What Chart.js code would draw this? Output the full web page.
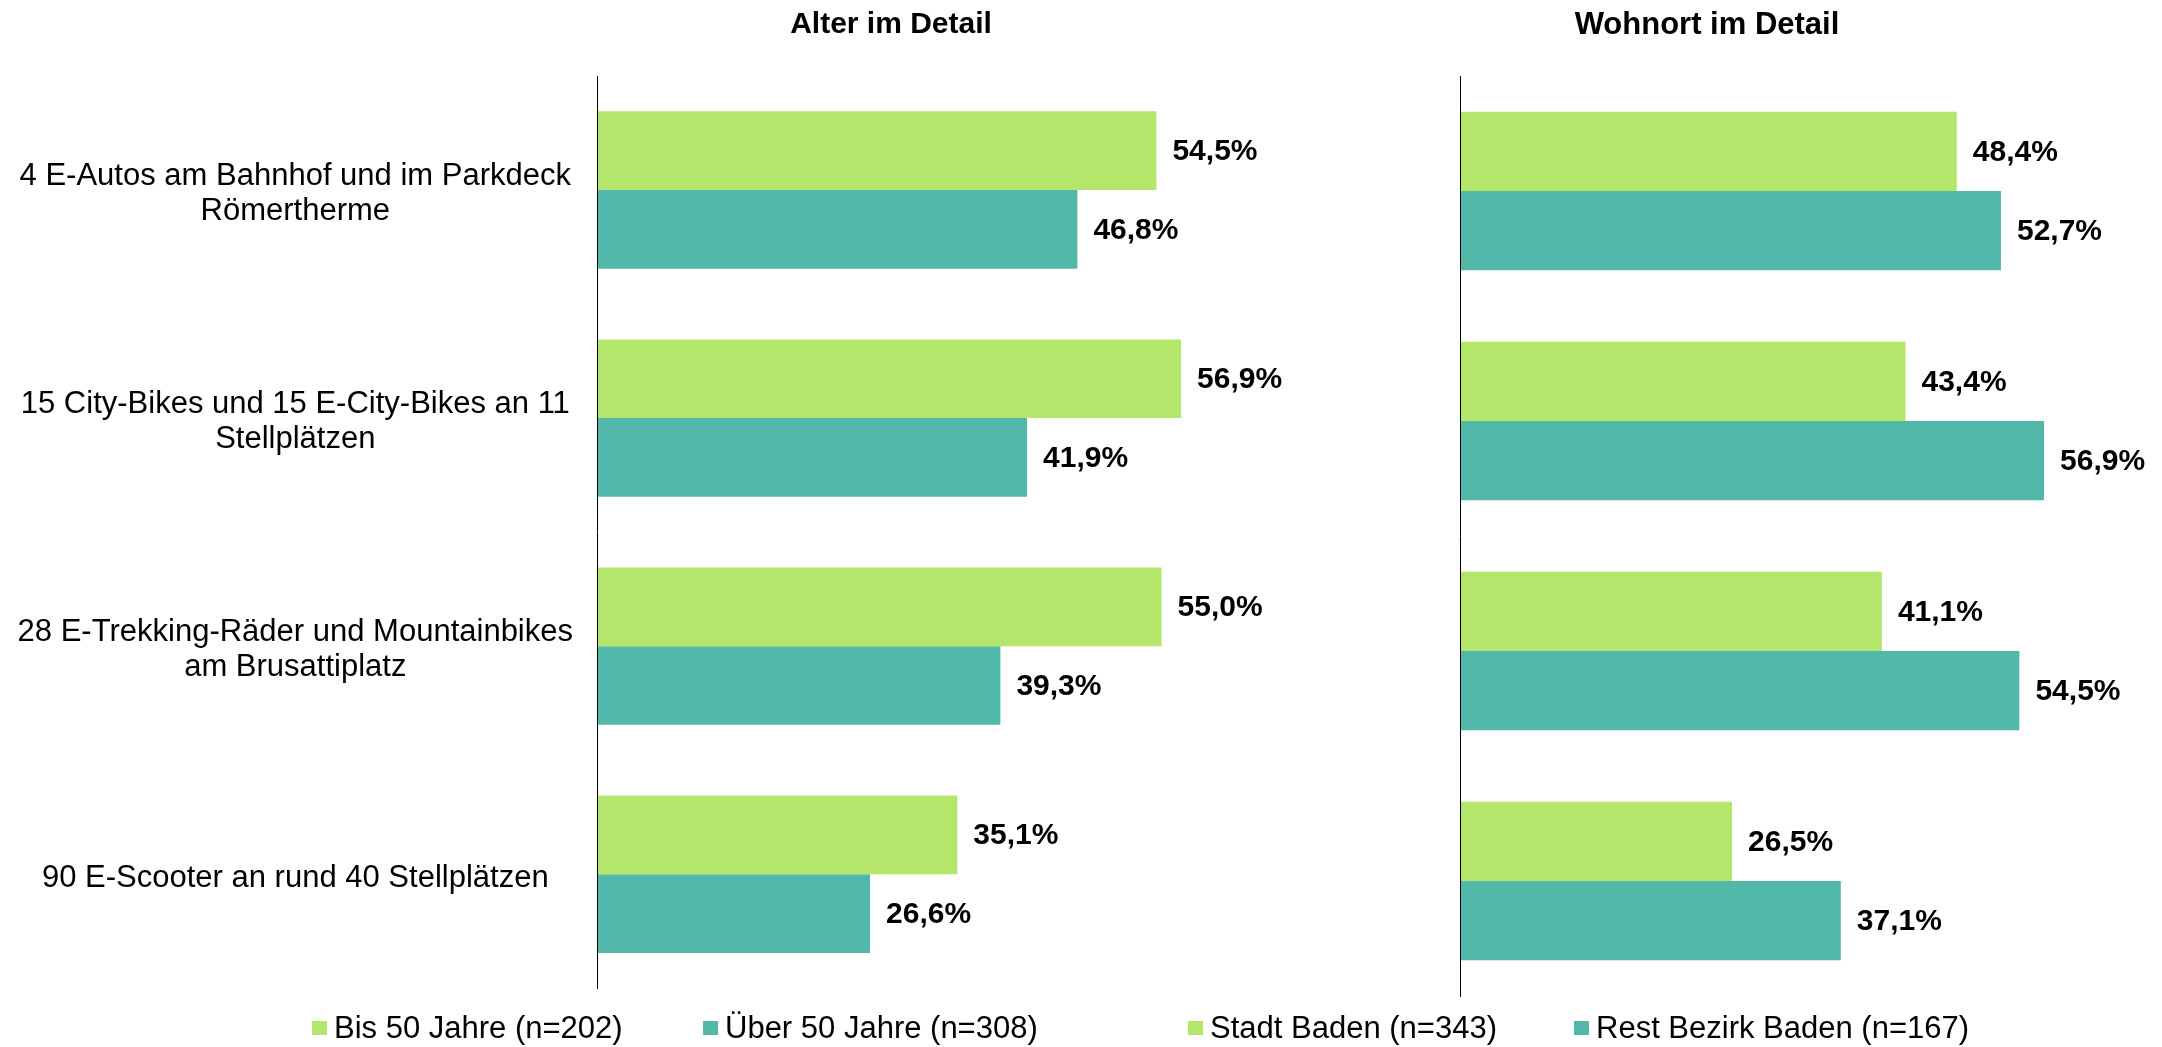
<!DOCTYPE html>
<html>
<head>
<meta charset="utf-8">
<script src="https://cdn.jsdelivr.net/npm/chart.js@4.4.0/dist/chart.umd.min.js"></script>
<style>
  body { margin: 0; background: #fff; overflow: hidden; }
  #wrap { position: relative; width: 2162px; height: 1047px; }
  canvas { position: absolute; left: 0; top: 0; }
</style>
</head>
<body>
<div id="wrap">
  <canvas id="alter" width="2162" height="1047"></canvas>
  <canvas id="wohnort" width="2162" height="1047"></canvas>
</div>
<script>
// Kategorien (Angebote)
const categories = [
    ['4 E-Autos am Bahnhof und im Parkdeck', 'Römertherme'],
    ['15 City-Bikes und 15 E-City-Bikes an 11', 'Stellplätzen'],
    ['28 E-Trekking-Räder und Mountainbikes', 'am Brusattiplatz'],
    '90 E-Scooter an rund 40 Stellplätzen'
];

// Alter im Detail
const ageLabels = ['Bis 50 Jahre (n=202)', 'Über 50 Jahre (n=308)'];
const bis50 = [54.5, 56.9, 55.0, 35.1];
const ueber50 = [46.8, 41.9, 39.3, 26.6];

// Wohnort im Detail
const placeLabels = ['Stadt Baden (n=343)', 'Rest Bezirk Baden (n=167)'];
const stadtBaden = [48.4, 43.4, 41.1, 26.5];
const restBezirk = [52.7, 56.9, 54.5, 37.1];

const xMax = 68;
const colors = ['#b3e66a', '#52b9aa'];

Chart.defaults.font.family = "'Liberation Sans', Arial, sans-serif";
Chart.defaults.color = '#000';

// Werte, Titel und Legende zeichnen
const extras = {
    id: 'extras',
    afterDatasetsDraw(chart, args, opts) {
        const ctx = chart.ctx;
        ctx.save();
        ctx.fillStyle = '#000';
        ctx.font = "bold 30px 'Liberation Sans', Arial, sans-serif";
        ctx.textBaseline = 'middle';
        ctx.textAlign = 'left';
        chart.data.datasets.forEach((ds, i) => {
            chart.getDatasetMeta(i).data.forEach((bar, j) => {
                const txt = ds.data[j].toFixed(1).replace('.', ',') + '%';
                ctx.fillText(txt, bar.x + 16, bar.y + 1);
            });
        });

        // Titel
        ctx.textAlign = 'center';
        ctx.font = "bold " + opts.titleSize + "px 'Liberation Sans', Arial, sans-serif";
        ctx.fillText(opts.title, opts.titleX, 25);

        // Legende
        ctx.font = "31px 'Liberation Sans', Arial, sans-serif";
        ctx.textAlign = 'left';
        chart.data.datasets.forEach((ds, i) => {
            const x = opts.legendX[i];
            ctx.fillStyle = ds.backgroundColor;
            ctx.fillRect(x, 1021, 15, 14);
            ctx.fillStyle = '#000';
            ctx.fillText(ds.label, x + 22, 1029);
        });
        ctx.restore();
    }
};

function makeChart(id, labels, series, opts) {
    const ctx = document.getElementById(id).getContext('2d');
    return new Chart(ctx, {
        type: 'bar',
        data: {
            labels: categories,
            datasets: series.map((d, i) => ({
                label: labels[i],
                data: d,
                backgroundColor: colors[i],
                borderWidth: 0,
                categoryPercentage: 0.69,
                barPercentage: 1.0
            }))
        },
        options: {
            indexAxis: 'y',
            responsive: false,
            animation: false,
            layout: { padding: { top: 76, bottom: 51, left: 0, right: opts.padRight } },
            plugins: {
                legend: { display: false },
                tooltip: { enabled: false },
                extras: opts
            },
            scales: {
                x: { display: false, min: 0, max: xMax },
                y: {
                    afterFit(scale) { scale.width = opts.axisLeft; },
                    grid: { display: false, drawTicks: false },
                    border: { display: true, color: '#000', width: 1, z: 1 },
                    ticks: {
                        display: opts.showTicks,
                        crossAlign: 'center',
                        padding: 24,
                        labelOffset: 4,
                        color: '#000',
                        font: { size: 31, lineHeight: 1.12 }
                    }
                }
            }
        },
        plugins: [extras]
    });
}

makeChart('alter', ageLabels, [bis50, ueber50], {
    title: 'Alter im Detail', titleX: 891, titleSize: 30, legendX: [312, 703],
    axisLeft: 597, padRight: 867, showTicks: true
});

makeChart('wohnort', placeLabels, [stadtBaden, restBezirk], {
    title: 'Wohnort im Detail', titleX: 1707, titleSize: 31, legendX: [1188, 1574],
    axisLeft: 1460, padRight: 4, showTicks: false
});
</script>
</body>
</html>
